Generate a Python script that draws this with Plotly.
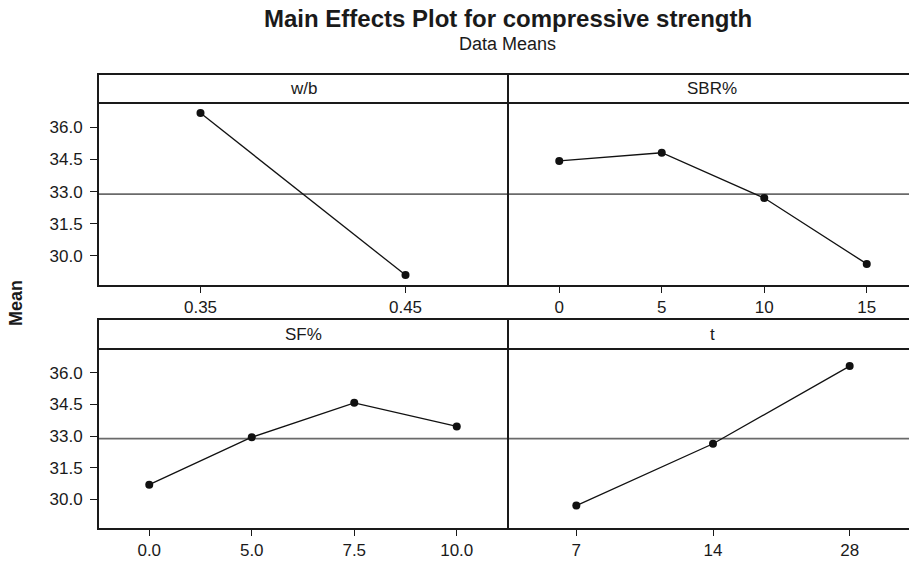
import plotly.graph_objects as go

# ---- data ----
wb_levels = ["0.35", "0.45"]
wb_means = [36.66, 29.11]

sbr_levels = ["0", "5", "10", "15"]
sbr_means = [34.43, 34.81, 32.70, 29.63]

sf_levels = ["0.0", "5.0", "7.5", "10.0"]
sf_means = [30.70, 32.95, 34.58, 33.46]

t_levels = ["7", "14", "28"]
t_means = [29.71, 32.64, 36.32]

panel_titles = ["w/b", "SBR%", "SF%", "t"]
y_ticks = [30.0, 31.5, 33.0, 34.5, 36.0]

grand_mean = sum(wb_means) / len(wb_means)

W, H = 909, 566
FONT = "Liberation Sans, Arial, Helvetica, sans-serif"
INK = "#1a1a1a"


def px(x):
    return x / W


def py(y):
    return 1 - y / H


x_left = (px(98), px(508))
x_right = (px(508), 1.0)
row_top = (py(286), py(103))
row_bot = (py(529), py(349))
head_top = (py(103), py(74))
head_bot = (py(349), py(319))

fig = go.Figure()

panels = [
    (wb_levels, wb_means, "x", "y", x_left, row_top, True),
    (sbr_levels, sbr_means, "x2", "y2", x_right, row_top, False),
    (sf_levels, sf_means, "x3", "y3", x_left, row_bot, True),
    (t_levels, t_means, "x4", "y4", x_right, row_bot, False),
]

left_w = 508 - 98
right_w = W - 508

for i, (lv, mv, xa, ya, xd, yd, show_y) in enumerate(panels):
    fig.add_trace(go.Scatter(
        x=lv, y=mv, xaxis=xa, yaxis=ya, mode="lines+markers",
        line=dict(color="#111111", width=1.3),
        marker=dict(color="#111111", size=8),
        showlegend=False, hoverinfo="skip",
    ))
    n = len(lv)
    if show_y:
        xr = [-0.5, n - 0.5]
    else:
        xr = [-0.5, -0.5 + n * right_w / left_w]
    suffix = "" if i == 0 else str(i + 1)
    fig.layout["xaxis" + suffix] = dict(
        domain=list(xd), anchor=ya, type="category", range=xr,
        showgrid=False, zeroline=False, showline=False,
        ticks="outside", ticklen=6, tickwidth=1.2, tickcolor=INK,
        tickfont=dict(family=FONT, size=17, color=INK),
        categoryorder="array", categoryarray=lv,
    )
    fig.layout["yaxis" + suffix] = dict(
        domain=list(yd), anchor=xa, range=[28.6, 37.13],
        showgrid=False, zeroline=False, showline=False,
        tickvals=y_ticks if show_y else [],
        ticktext=[f"{v:.1f}" for v in y_ticks] if show_y else [],
        ticks="outside" if show_y else "", ticklen=7, tickwidth=1.2, tickcolor=INK,
        ticklabelstandoff=4,
        tickfont=dict(family=FONT, size=17, color=INK),
        showticklabels=show_y,
    )

shapes = []
# grand mean reference lines
for ya, yd in (("y", row_top), ("y3", row_bot)):
    shapes.append(dict(type="line", xref="paper", yref=ya,
                       x0=px(98), x1=1.02, y0=grand_mean, y1=grand_mean,
                       line=dict(color="#6a6a6a", width=1.8), layer="below"))

# frames: plot areas + header strips
for yd, hd in ((row_top, head_top), (row_bot, head_bot)):
    for xd in (x_left, (x_right[0], 1.02)):
        shapes.append(dict(type="rect", xref="paper", yref="paper",
                           x0=xd[0], x1=xd[1], y0=yd[0], y1=yd[1],
                           line=dict(color=INK, width=2), fillcolor="rgba(0,0,0,0)"))
        shapes.append(dict(type="rect", xref="paper", yref="paper",
                           x0=xd[0], x1=xd[1], y0=hd[0], y1=hd[1],
                           line=dict(color=INK, width=2), fillcolor="rgba(0,0,0,0)"))

annotations = []
head_centers = [
    ((98 + 508) / 2 / W, (head_top[0] + head_top[1]) / 2),
    ((508 + 916) / 2 / W, (head_top[0] + head_top[1]) / 2),
    ((98 + 508) / 2 / W, (head_bot[0] + head_bot[1]) / 2),
    ((508 + 916) / 2 / W, (head_bot[0] + head_bot[1]) / 2),
]
for txt, (cx, cy) in zip(panel_titles, head_centers):
    annotations.append(dict(text=txt, xref="paper", yref="paper", x=cx, y=cy,
                            showarrow=False, xanchor="center", yanchor="middle",
                            font=dict(family=FONT, size=17, color=INK)))

annotations.append(dict(text="<b>Main Effects Plot for compressive strength</b>",
                        xref="paper", yref="paper", x=px(508), y=py(18),
                        showarrow=False, xanchor="center", yanchor="middle",
                        font=dict(family=FONT, size=24, color=INK)))
annotations.append(dict(text="Data Means", xref="paper", yref="paper",
                        x=px(507), y=py(44), showarrow=False,
                        xanchor="center", yanchor="middle",
                        font=dict(family=FONT, size=18, color=INK)))
annotations.append(dict(text="<b>Mean</b>", xref="paper", yref="paper",
                        x=px(16), y=py(303), showarrow=False, textangle=-90,
                        xanchor="center", yanchor="middle",
                        font=dict(family=FONT, size=18, color=INK)))

fig.update_layout(
    width=W, height=H,
    margin=dict(l=0, r=0, t=0, b=0),
    paper_bgcolor="white", plot_bgcolor="white",
    shapes=shapes, annotations=annotations,
    showlegend=False,
)

fig.write_html("out.html", config={"displayModeBar": False},
               post_script="document.body.style.margin='0';")
